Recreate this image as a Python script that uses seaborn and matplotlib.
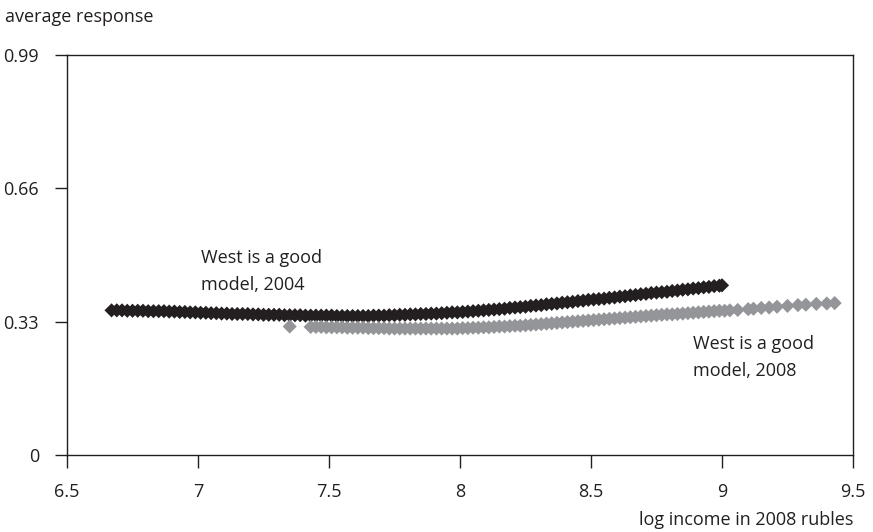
import matplotlib
matplotlib.use("Agg")
import matplotlib.pyplot as plt
import seaborn as sns
import pandas as pd

# ---- data ----
x_2004 = [6.67, 6.69, 6.71, 6.73, 6.75, 6.77, 6.79, 6.81, 6.83, 6.85, 6.87, 6.89,
          6.91, 6.93, 6.95, 6.97, 6.99, 7.01, 7.03, 7.05, 7.07, 7.09, 7.11, 7.13,
          7.15, 7.17, 7.19, 7.21, 7.23, 7.25, 7.27, 7.29, 7.31, 7.33, 7.35, 7.37,
          7.39, 7.41, 7.43, 7.45, 7.47, 7.49, 7.51, 7.53, 7.55, 7.57, 7.59, 7.61,
          7.63, 7.65, 7.67, 7.69, 7.71, 7.73, 7.75, 7.77, 7.79, 7.81, 7.83, 7.85,
          7.87, 7.89, 7.91, 7.93, 7.95, 7.97, 7.99, 8.01, 8.03, 8.05, 8.07, 8.09,
          8.11, 8.13, 8.15, 8.17, 8.19, 8.21, 8.23, 8.25, 8.27, 8.29, 8.31, 8.33,
          8.35, 8.37, 8.39, 8.41, 8.43, 8.45, 8.47, 8.49, 8.51, 8.53, 8.55, 8.57,
          8.59, 8.61, 8.63, 8.65, 8.67, 8.69, 8.71, 8.73, 8.75, 8.77, 8.79, 8.81,
          8.83, 8.85, 8.87, 8.89, 8.91, 8.93, 8.95, 8.97, 8.99, 9.00]
y_2004 = [0.358, 0.358, 0.358, 0.357, 0.357, 0.357, 0.357, 0.356, 0.356, 0.356, 0.356, 0.355,
          0.355, 0.354, 0.354, 0.353, 0.353, 0.352, 0.352, 0.351, 0.351, 0.350, 0.350, 0.349,
          0.349, 0.349, 0.349, 0.348, 0.348, 0.347, 0.347, 0.347, 0.347, 0.346, 0.346, 0.346,
          0.346, 0.345, 0.345, 0.345, 0.345, 0.345, 0.345, 0.344, 0.344, 0.344, 0.344, 0.344,
          0.344, 0.344, 0.345, 0.345, 0.345, 0.346, 0.346, 0.347, 0.347, 0.348, 0.348, 0.349,
          0.349, 0.350, 0.350, 0.351, 0.352, 0.353, 0.353, 0.354, 0.355, 0.356, 0.357, 0.358,
          0.359, 0.360, 0.361, 0.362, 0.364, 0.365, 0.366, 0.367, 0.369, 0.370, 0.371, 0.373,
          0.374, 0.375, 0.377, 0.378, 0.379, 0.381, 0.382, 0.384, 0.385, 0.386, 0.387, 0.389,
          0.390, 0.392, 0.393, 0.395, 0.396, 0.398, 0.399, 0.401, 0.402, 0.403, 0.404, 0.406,
          0.407, 0.409, 0.410, 0.412, 0.413, 0.415, 0.416, 0.418, 0.419, 0.420]

x_2008 = [7.35, 7.43, 7.45, 7.47, 7.49, 7.51, 7.53, 7.55, 7.57, 7.59, 7.61, 7.63,
          7.65, 7.67, 7.69, 7.71, 7.73, 7.75, 7.77, 7.79, 7.81, 7.83, 7.85, 7.87,
          7.89, 7.91, 7.93, 7.95, 7.97, 7.99, 8.01, 8.03, 8.05, 8.07, 8.09, 8.11,
          8.13, 8.15, 8.17, 8.19, 8.21, 8.23, 8.25, 8.27, 8.29, 8.31, 8.33, 8.35,
          8.37, 8.39, 8.41, 8.43, 8.45, 8.47, 8.49, 8.51, 8.53, 8.55, 8.57, 8.59,
          8.61, 8.63, 8.65, 8.67, 8.69, 8.71, 8.73, 8.75, 8.77, 8.79, 8.81, 8.83,
          8.85, 8.87, 8.89, 8.91, 8.93, 8.95, 8.97, 8.99, 9.01, 9.03, 9.06, 9.10,
          9.12, 9.15, 9.18, 9.21, 9.25, 9.29, 9.32, 9.36, 9.40, 9.43]
y_2008 = [0.318, 0.317, 0.317, 0.317, 0.316, 0.316, 0.316, 0.316, 0.315, 0.315, 0.315, 0.315,
          0.314, 0.314, 0.314, 0.314, 0.313, 0.313, 0.313, 0.313, 0.313, 0.313, 0.313, 0.313,
          0.313, 0.313, 0.313, 0.313, 0.313, 0.313, 0.314, 0.314, 0.315, 0.315, 0.316, 0.316,
          0.317, 0.318, 0.318, 0.319, 0.320, 0.320, 0.321, 0.322, 0.323, 0.324, 0.325, 0.326,
          0.327, 0.328, 0.329, 0.330, 0.331, 0.332, 0.333, 0.334, 0.335, 0.336, 0.337, 0.338,
          0.339, 0.340, 0.341, 0.342, 0.343, 0.344, 0.345, 0.346, 0.347, 0.348, 0.348, 0.349,
          0.350, 0.351, 0.352, 0.353, 0.354, 0.355, 0.356, 0.357, 0.357, 0.358, 0.359, 0.361,
          0.362, 0.364, 0.365, 0.367, 0.369, 0.371, 0.372, 0.374, 0.375, 0.376]

x_ticks = [6.5, 7, 7.5, 8, 8.5, 9, 9.5]
x_tick_labels = ["6.5", "7", "7.5", "8", "8.5", "9", "9.5"]
y_ticks = [0, 0.33, 0.66, 0.99]
y_tick_labels = ["0", "0.33", "0.66", "0.99"]

label_2004 = "West is a good\nmodel, 2004"
label_2008 = "West is a good\nmodel, 2008"

df = pd.concat([
    pd.DataFrame({"x": x_2004, "y": y_2004, "series": "2004"}),
    pd.DataFrame({"x": x_2008, "y": y_2008, "series": "2008"}),
], ignore_index=True)

# ---- style ----
sns.set_theme(style="ticks")
plt.rcParams["font.family"] = ["Open Sans", "DejaVu Sans"]
ink = "#231f20"
gray = "#939598"

fig = plt.figure(figsize=(8.73, 5.32), dpi=100)
ax = fig.add_axes([67 / 873, 1 - 455 / 532, (853 - 67) / 873, (455 - 55) / 532])

sns.scatterplot(data=df, x="x", y="y", hue="series", palette={"2004": ink, "2008": gray},
                marker="D", s=52, linewidth=0, edgecolor="none", legend=False, ax=ax, zorder=3)

ax.set_xlim(6.5, 9.5)
ax.set_ylim(0, 0.99)
ax.set_xticks(x_ticks)
ax.set_xticklabels(x_tick_labels)
ax.set_yticks(y_ticks)
ax.set_yticklabels(y_tick_labels)
ax.set_xlabel("")
ax.set_ylabel("")

for side in ["left", "right", "top", "bottom"]:
    ax.spines[side].set_visible(True)
    ax.spines[side].set_color(ink)
    ax.spines[side].set_linewidth(1.0)

fs = 13
ax.tick_params(axis="both", direction="out", length=9, width=1.0, color=ink,
               labelsize=fs, labelcolor=ink)
ax.tick_params(axis="y", pad=11)
ax.tick_params(axis="x", pad=11)
ax.tick_params(top=False, right=False)

ax.text(7.01, 0.51, label_2004, fontsize=fs, color=ink, ha="left", va="top", linespacing=1.65)
ax.text(8.89, 0.297, label_2008, fontsize=fs, color=ink, ha="left", va="top", linespacing=1.65)

fig.text(5 / 873, 1 - 17 / 532, "average response", fontsize=fs, color=ink, ha="left", va="center")
fig.text(853 / 873, 1 - 520 / 532, "log income in 2008 rubles", fontsize=fs, color=ink,
         ha="right", va="center")

fig.savefig("out.png", dpi=100)
